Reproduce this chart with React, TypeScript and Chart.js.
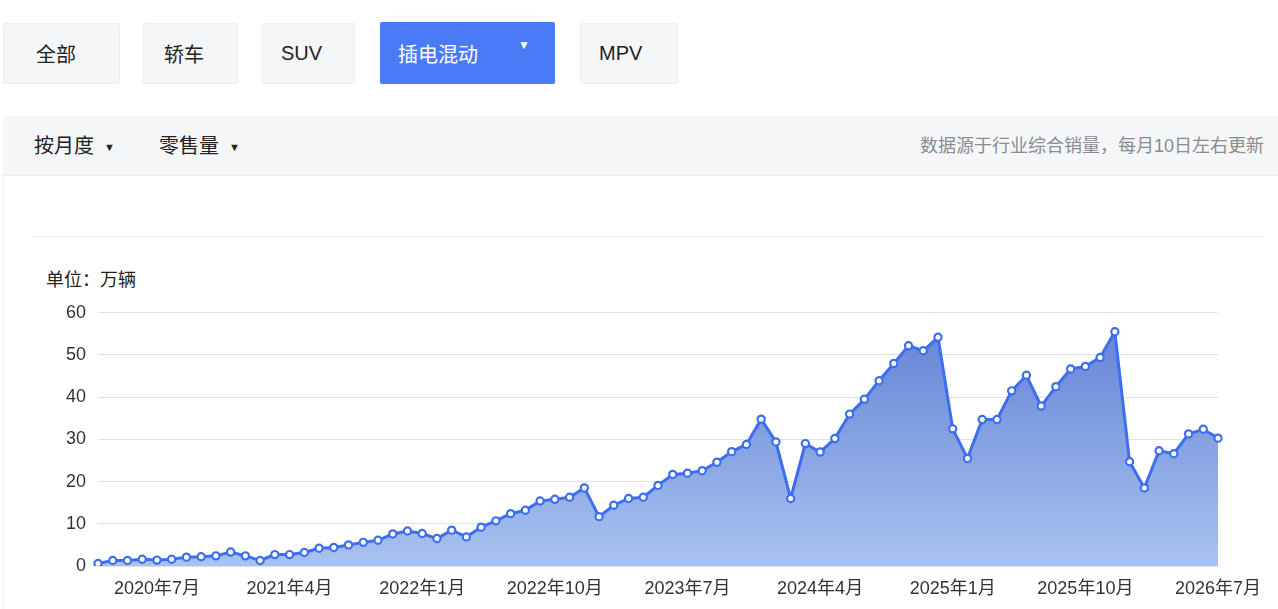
import React, { useEffect, useRef } from 'react';
import { Chart, registerables } from 'chart.js';

Chart.register(...registerables);

const START_YEAR = 2020;
const START_MONTH = 3;

// 插电混动 monthly retail sales (万辆), 2020年3月 – 2026年7月
const SALES = [
  0.6, 1.3, 1.3, 1.6, 1.4, 1.6, 2.1, 2.2, 2.4, 3.3,
  2.4, 1.3, 2.7, 2.7, 3.2, 4.2, 4.4, 5.0, 5.6, 6.1,
  7.6, 8.3, 7.7, 6.5, 8.5, 6.9, 9.2, 10.7, 12.4, 13.2,
  15.4, 15.8, 16.3, 18.5, 11.7, 14.4, 16.0, 16.3, 19.1, 21.7,
  22.0, 22.6, 24.6, 27.1, 28.8, 34.8, 29.4, 16.0, 29.0, 27.0,
  30.2, 36.0, 39.5, 43.9, 48.0, 52.2, 51.0, 54.2, 32.5, 25.5,
  34.7, 34.7, 41.5, 45.2, 37.9, 42.5, 46.7, 47.3, 49.4, 55.5,
  24.7, 18.5, 27.3, 26.6, 31.3, 32.4, 30.3,
];

const CATEGORIES = SALES.map((_, i) => {
  const m = START_MONTH - 1 + i;
  return `${START_YEAR + Math.floor(m / 12)}年${(m % 12) + 1}月`;
});

const TICK_LABELS = [
  '2020年7月', '2021年4月', '2022年1月', '2022年10月', '2023年7月',
  '2024年4月', '2025年1月', '2025年10月', '2026年7月',
];

const Y_TICKS = [0, 10, 20, 30, 40, 50, 60];

const TABS = ['全部', '轿车', 'SUV', '插电混动', 'MPV'];
const ACTIVE_TAB = '插电混动';
const FILTERS = ['按月度', '零售量'];
const NOTE = '数据源于行业综合销量，每月10日左右更新';
const UNIT = '单位：万辆';

const FONT = "'Liberation Sans', 'Noto Sans CJK SC', 'Noto Sans', sans-serif";

const tabBoxes = [
  { left: 3, width: 117, pad: 32 },
  { left: 143, width: 95, pad: 20 },
  { left: 262, width: 93, pad: 18 },
  { left: 380, width: 175, pad: 18 },
  { left: 580, width: 98, pad: 18 },
];

export default function App() {
  const canvasRef = useRef<HTMLCanvasElement | null>(null);

  useEffect(() => {
    const canvas = canvasRef.current;
    if (!canvas) return;
    const chart = new Chart(canvas, {
      type: 'line',
      data: {
        labels: CATEGORIES,
        datasets: [
          {
            data: SALES,
            borderColor: '#3e6ef0',
            borderWidth: 3,
            pointRadius: 3.6,
            pointBorderWidth: 2.2,
            pointBackgroundColor: '#ffffff',
            pointBorderColor: '#3e6ef0',
            tension: 0,
            fill: 'origin',
            backgroundColor: (ctx: any) => {
              const c = ctx.chart;
              const a = c.chartArea;
              if (!a) return 'rgba(120,150,220,0.8)';
              const g = c.ctx.createLinearGradient(0, a.top, 0, a.bottom);
              g.addColorStop(0, '#6180d4');
              g.addColorStop(1, '#a8c3f0');
              return g;
            },
          },
        ],
      },
      options: {
        animation: false,
        responsive: false,
        maintainAspectRatio: false,
        layout: { padding: { top: 22, right: 60, bottom: 0, left: 0 } },
        plugins: {
          legend: { display: false },
          tooltip: { enabled: false },
        },
        scales: {
          x: {
            grid: { display: false, drawTicks: false },
            border: { display: false },
            ticks: {
              autoSkip: false,
              maxRotation: 0,
              minRotation: 0,
              padding: 12,
              color: '#333333',
              font: { size: 18, family: FONT },
              callback: (_v: any, i: number) => {
                const l = CATEGORIES[i];
                return TICK_LABELS.includes(l) ? l : null;
              },
            },
            afterFit: (s: any) => {
              s.height = 43;
            },
          },
          y: {
            min: 0,
            max: 60,
            grid: { color: '#e0e2e8', drawTicks: false, lineWidth: 1 },
            border: { display: false },
            ticks: {
              padding: 12,
              color: '#333333',
              font: { size: 18, family: FONT },
            },
            afterBuildTicks: (s: any) => {
              s.ticks = Y_TICKS.map((v) => ({ value: v }));
            },
            afterFit: (s: any) => {
              s.width = 98;
            },
          },
        },
      },
    });
    return () => chart.destroy();
  }, []);

  return (
    <div
      style={{
        position: 'absolute',
        left: 0,
        top: 0,
        width: 1278,
        height: 609,
        background: '#ffffff',
        overflow: 'hidden',
        fontFamily: FONT,
        color: '#222222',
      }}
    >
      {TABS.map((t, i) => {
        const active = t === ACTIVE_TAB;
        const b = tabBoxes[i];
        return (
          <div
            key={t}
            style={{
              position: 'absolute',
              left: b.left,
              top: active ? 22 : 23,
              width: b.width,
              height: active ? 62 : 61,
              boxSizing: 'border-box',
              background: active ? '#4a7af6' : '#f5f6f7',
              border: active ? 'none' : '1px solid #eceef0',
              borderRadius: 2,
              color: active ? '#ffffff' : '#222222',
              fontSize: 20,
              display: 'flex',
              alignItems: 'center',
              paddingLeft: b.pad,
              justifyContent: 'flex-start',
            }}
          >
            {t}
            {active && (
              <span
                style={{
                  position: 'absolute',
                  left: 138,
                  top: 16,
                  fontSize: 12,
                  color: '#ffffff',
                }}
              >
                ▼
              </span>
            )}
          </div>
        );
      })}

      <div
        style={{
          position: 'absolute',
          left: 3,
          top: 116,
          width: 1275,
          height: 60,
          background: '#f5f6f8',
          borderBottom: '1px solid #e9eaec',
          boxSizing: 'border-box',
        }}
      />
      {FILTERS.map((f, i) => (
        <div
          key={f}
          style={{
            position: 'absolute',
            left: i === 0 ? 34 : 159,
            top: 131,
            height: 30,
            lineHeight: '30px',
            fontSize: 20,
            color: '#222222',
            whiteSpace: 'nowrap',
          }}
        >
          {f}
          <span style={{ fontSize: 11, marginLeft: 10, position: 'relative', top: -2 }}>▼</span>
        </div>
      ))}
      <div
        style={{
          position: 'absolute',
          right: 14,
          top: 131,
          height: 30,
          lineHeight: '30px',
          fontSize: 18,
          color: '#8a8c90',
          whiteSpace: 'nowrap',
        }}
      >
        {NOTE}
      </div>

      <div
        style={{
          position: 'absolute',
          left: 3,
          top: 176,
          width: 1,
          height: 433,
          background: '#eceef0',
        }}
      />
      <div
        style={{
          position: 'absolute',
          left: 34,
          top: 236,
          width: 1229,
          height: 1,
          background: '#e8e9ec',
        }}
      />
      <div
        style={{
          position: 'absolute',
          left: 46,
          top: 267,
          height: 26,
          lineHeight: '26px',
          fontSize: 18,
          color: '#222222',
          whiteSpace: 'nowrap',
        }}
      >
        {UNIT}
      </div>

      <canvas
        ref={canvasRef}
        width={1278}
        height={319}
        style={{ position: 'absolute', left: 0, top: 290, width: 1278, height: 319 }}
      />
    </div>
  );
}
